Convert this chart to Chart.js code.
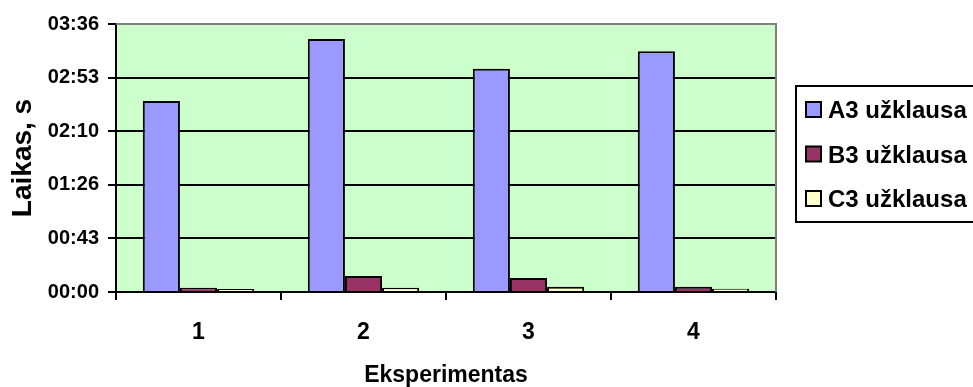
<!DOCTYPE html>
<html>
<head>
<meta charset="utf-8">
<script src="https://cdn.jsdelivr.net/npm/chart.js@4.4.1/dist/chart.umd.min.js"></script>
<style>
  html, body { margin: 0; padding: 0; background: #ffffff; overflow: hidden; }
  #wrap { width: 973px; height: 387px; }
</style>
</head>
<body>
<div id="wrap"><canvas id="c" width="973" height="387"></canvas></div>
<script>
// Experiment numbers along the x axis
const categories = ['1', '2', '3', '4'];

// Query run times in seconds
const seriesNames = ['A3 užklausa', 'B3 užklausa', 'C3 užklausa'];
const a3Times = [154, 204, 180, 194];
const b3Times = [3.5, 12.9, 11.3, 4.3];
const c3Times = [2.4, 3.5, 4.3, 2.7];

// Y axis: tick values in seconds and their mm:ss labels
const yTickValues = [0, 43.2, 86.4, 129.6, 172.8, 216];
const yTickLabels = ['00:00', '00:43', '01:26', '02:10', '02:53', '03:36'];

const seriesColors = ['#9999FF', '#993366', '#FFFFCC'];
const FONT = "'Liberation Sans', Arial, sans-serif";

Chart.defaults.font.family = FONT;
Chart.defaults.font.weight = 'bold';
Chart.defaults.color = '#000000';

// Green plot background with a grey frame on top and right
const plotFrame = {
  id: 'plotFrame',
  beforeDraw(chart) {
    const { ctx, chartArea: a } = chart;
    ctx.save();
    ctx.fillStyle = '#CCFFCC';
    ctx.fillRect(a.left, a.top, a.right - a.left, a.bottom - a.top);
    ctx.restore();
  },
  beforeDatasetsDraw(chart) {
    const { ctx, chartArea: a } = chart;
    ctx.save();
    ctx.strokeStyle = '#808080';
    ctx.lineWidth = 2;
    ctx.beginPath();
    ctx.moveTo(a.left, a.top);
    ctx.lineTo(a.right, a.top);
    ctx.lineTo(a.right, a.bottom);
    ctx.stroke();
    ctx.restore();
  }
};

// Boxed legend to the right of the plot
const boxedLegend = {
  id: 'boxedLegend',
  afterDraw(chart) {
    const { ctx } = chart;
    ctx.save();
    ctx.strokeStyle = '#000000';
    ctx.lineWidth = 2;
    ctx.strokeRect(796, 86, 260, 136);
    ctx.font = "bold 24px " + FONT;
    ctx.textBaseline = 'alphabetic';
    ctx.textAlign = 'left';
    chart.data.datasets.forEach((ds, i) => {
      const cy = 109.5 + i * 44.5;
      ctx.fillStyle = ds.backgroundColor;
      ctx.fillRect(806, cy - 7.5, 15, 15);
      ctx.strokeStyle = '#000000';
      ctx.lineWidth = 2;
      ctx.strokeRect(806, cy - 7.5, 15, 15);
      ctx.fillStyle = '#000000';
      ctx.fillText(ds.label, 828, cy + 8.5);
    });
    ctx.restore();
  }
};

const seriesData = [a3Times, b3Times, c3Times];

new Chart(document.getElementById('c'), {
  type: 'bar',
  data: {
    labels: categories,
    datasets: seriesNames.map((name, i) => ({
      label: name,
      data: seriesData[i],
      backgroundColor: seriesColors[i],
      borderColor: '#000000',
      borderWidth: 2,
      categoryPercentage: 0.675,
      barPercentage: 1.0
    }))
  },
  plugins: [plotFrame, boxedLegend],
  options: {
    responsive: false,
    animation: false,
    devicePixelRatio: 1,
    layout: { padding: { left: 0, top: 24, right: 197, bottom: 0 } },
    plugins: {
      legend: { display: false },
      tooltip: { enabled: false }
    },
    scales: {
      x: {
        grid: {
          offset: true,
          drawOnChartArea: false,
          color: '#000000',
          lineWidth: 2,
          tickLength: 8
        },
        border: { color: '#000000', width: 2 },
        ticks: {
          font: { size: 23, weight: 'bold' },
          color: '#000000',
          padding: 19
        },
        title: {
          display: true,
          text: 'Eksperimentas',
          font: { size: 23, weight: 'bold', lineHeight: 1 },
          color: '#000000',
          padding: { top: 0, bottom: 0 }
        },
        afterFit(scale) { scale.height = 95; }
      },
      y: {
        min: 0,
        max: 216,
        afterBuildTicks(scale) {
          scale.ticks = yTickValues.map(v => ({ value: v }));
        },
        grid: {
          color: ctx => (ctx.tick && ctx.tick.value === 216) ? '#808080' : '#000000',
          tickColor: '#000000',
          lineWidth: 2,
          tickLength: 8
        },
        border: { color: '#000000', width: 2 },
        ticks: {
          font: { size: 20, weight: 'bold' },
          color: '#000000',
          padding: 9,
          callback: (value, index) => yTickLabels[index]
        },
        title: {
          display: true,
          text: 'Laikas, s',
          font: { size: 28, weight: 'bold', lineHeight: 1 },
          color: '#000000',
          padding: { top: 9, bottom: 0 }
        },
        afterFit(scale) { scale.width = 116; }
      }
    }
  }
});
</script>
</body>
</html>
